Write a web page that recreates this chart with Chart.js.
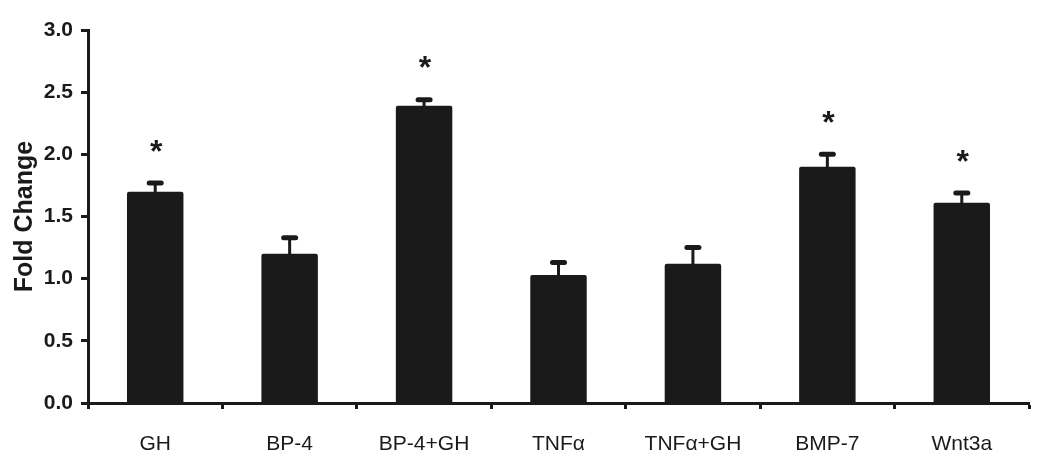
<!DOCTYPE html>
<html>
<head>
<meta charset="utf-8">
<script src="https://cdn.jsdelivr.net/npm/chart.js@4"></script>
<style>
  html, body { margin: 0; padding: 0; background: #fff; }
  #wrap { width: 1050px; height: 474px; }
</style>
</head>
<body>
<div id="wrap"><canvas id="chart" width="1050" height="474"></canvas></div>
<script>
// data
const groups = ["GH", "BP-4", "BP-4+GH", "TNF\u03B1", "TNF\u03B1+GH", "BMP-7", "Wnt3a"]
const foldChange = [1.70, 1.20, 2.39, 1.03, 1.12, 1.90, 1.61]
const errUp = [0.07, 0.13, 0.05, 0.10, 0.13, 0.10, 0.08]
const significant = [true, false, true, false, false, true, true]
const yTicks = [0, 0.5, 1.0, 1.5, 2.0, 2.5, 3.0]

const ink = "#1a1a1a"

// error bars (upper only) + asterisks
const errorBarPlugin = {
    id: "errorBars",
    afterDatasetsDraw(chart){
        let ctx = chart.ctx
        let meta = chart.getDatasetMeta(0)
        let yScale = chart.scales.y
        ctx.save()
        ctx.strokeStyle = ink
        ctx.fillStyle = ink
        ctx.lineCap = "round"
        meta.data.forEach((bar, i) => {
            let x = bar.x
            let yTop = yScale.getPixelForValue(foldChange[i])
            let yErr = yScale.getPixelForValue(foldChange[i] + errUp[i])
            ctx.lineWidth = 3
            ctx.beginPath()
            ctx.moveTo(x, yTop)
            ctx.lineTo(x, yErr)
            ctx.stroke()
            ctx.lineWidth = 5
            ctx.beginPath()
            ctx.moveTo(x - 6, yErr)
            ctx.lineTo(x + 6, yErr)
            ctx.stroke()
            if(significant[i]){
                ctx.font = "bold 32px 'Liberation Sans', Arial, sans-serif"
                ctx.textAlign = "center"
                ctx.textBaseline = "middle"
                ctx.fillText("*", x + 1, yErr - 30)
            }
        })
        ctx.restore()
    }
}

new Chart(document.getElementById("chart"), {
    type: "bar",
    data: {
        labels: groups,
        datasets: [{
            label: "Fold Change",
            data: foldChange,
            backgroundColor: ink,
            borderWidth: 0,
            borderRadius: 2,
            borderSkipped: "bottom",
            categoryPercentage: 1.0,
            barPercentage: 0.42
        }]
    },
    options: {
        responsive: false,
        animation: false,
        layout: { padding: { top: 30, right: 21, left: 0, bottom: 0 } },
        plugins: {
            legend: { display: false },
            tooltip: { enabled: false }
        },
        scales: {
            x: {
                offset: true,
                grid: {
                    offset: true,
                    drawOnChartArea: false,
                    drawTicks: true,
                    tickLength: 6,
                    tickWidth: 3,
                    tickColor: ink
                },
                border: { display: true, color: ink, width: 3 },
                ticks: {
                    color: ink,
                    padding: 23,
                    font: { family: "'Liberation Sans', Arial, sans-serif", size: 21 },
                    maxRotation: 0,
                    autoSkip: false
                },
                afterFit(scale){ scale.height = 71 }
            },
            y: {
                min: 0,
                max: 3,
                afterBuildTicks(scale){ scale.ticks = yTicks.map(v => ({value: v})) },
                grid: {
                    drawOnChartArea: false,
                    drawTicks: true,
                    tickLength: 7,
                    tickWidth: 3,
                    tickColor: ink
                },
                border: { display: true, color: ink, width: 3 },
                ticks: {
                    color: ink,
                    padding: 8,
                    font: { family: "'Liberation Sans', Arial, sans-serif", size: 21, weight: "bold" },
                    callback: v => v.toFixed(1)
                },
                title: {
                    display: true,
                    text: "Fold Change",
                    color: ink,
                    padding: { top: 10, bottom: 0 },
                    font: { family: "'Liberation Sans', Arial, sans-serif", size: 25, weight: "bold" }
                },
                afterFit(scale){ scale.width = 88 }
            }
        }
    },
    plugins: [errorBarPlugin]
})
</script>
</body>
</html>
